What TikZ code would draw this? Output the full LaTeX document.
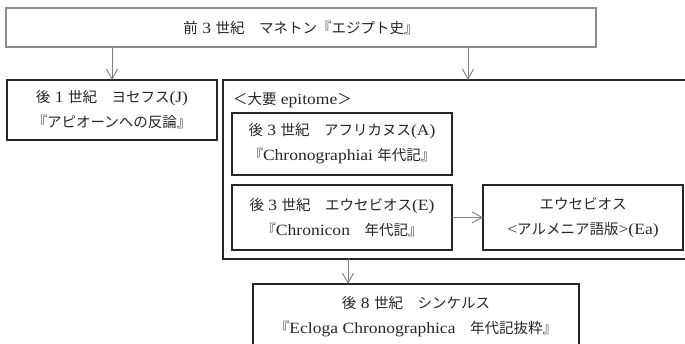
\documentclass[tikz,border=0pt]{standalone}
\usepackage{fontspec}
\setmainfont[Scale=1.08,FakeStretch=1.12]{Liberation Serif}
\newfontfamily\jpfont{Noto Sans CJK JP}
\newcommand\J[1]{{\jpfont #1}}
\usetikzlibrary{arrows.meta}
\begin{document}
\begin{tikzpicture}[x=1pt,y=-1pt,
  every node/.style={inner sep=0pt,outer sep=0pt,text=black!85,align=center,
    font=\fontsize{14.5}{25}\selectfont},
  graybox/.style={draw=black!45,line width=1.2pt},
  blkbox/.style={draw=black!85,line width=1.8pt},
  arr/.style={draw=black!50,line width=0.9pt,-{Straight Barb[length=10pt,width=11pt]}}]
\useasboundingbox[fill=white] (0,0) rectangle (685,344);
\node[graybox,minimum width=590pt,minimum height=39pt] (top) at (301,27.5)
  {\J{前} 3 \J{世紀　マネトン『エジプト史』}};
\node[blkbox,minimum width=210pt,minimum height=60pt] (jos) at (112,110)
  {\J{後} 1 \J{世紀　ヨセフス}(J)\\\J{『アピオーンへの反論』}};
\node[blkbox,minimum width=467pt,minimum height=179pt] (big) at (456.5,169.5) {};
\node[anchor=west] (epi) at (233,100) {\J{＜大要} epitome\J{＞}};
\node[blkbox,minimum width=220pt,minimum height=62pt] (afr) at (342,144)
  {\J{後} 3 \J{世紀　アフリカヌス}(A)\\\J{『}Chronographiai \J{年代記』}};
\node[blkbox,minimum width=220pt,minimum height=65pt] (eus) at (342,217.5)
  {\J{後} 3 \J{世紀　エウセビオス}(E)\\\J{『}Chronicon\J{　年代記』}};
\node[blkbox,minimum width=200pt,minimum height=65pt] (arm) at (583,217.5)
  {\J{エウセビオス}\\<\J{アルメニア語版}>(Ea)};
\node[blkbox,minimum width=326pt,minimum height=65pt] (syn) at (416,316.5)
  {\J{後} 8 \J{世紀　シンケルス}\\\J{『}Ecloga Chronographica\J{　年代記抜粋』}};
\draw[arr] (top.south -| jos.north) -- (jos.north);
\draw[arr] ([xshift=11.5pt]big.north |- top.south) -- ([xshift=11.5pt]big.north);
\draw[arr] (eus.east) -- (arm.west);
\draw[arr] ([xshift=-68pt]syn.north |- big.south) -- ([xshift=-68pt]syn.north);
\end{tikzpicture}
\end{document}
